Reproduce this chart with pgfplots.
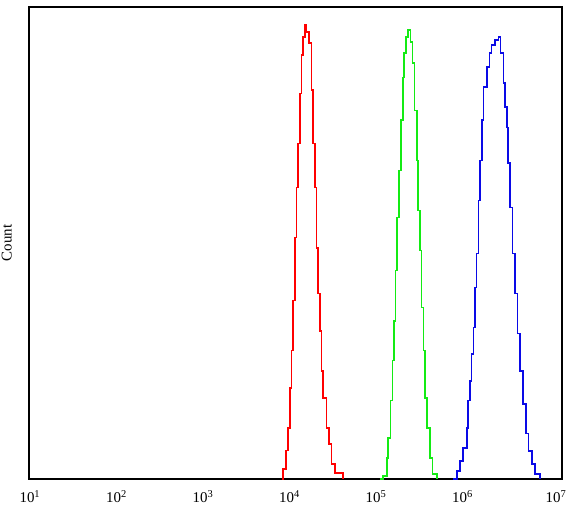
\documentclass[border=0pt]{standalone}
\usepackage{fontspec}
\setmainfont{Liberation Serif}
\usepackage{pgfplots}
\pgfplotsset{compat=1.18}
\definecolor{hred}{RGB}{255,0,0}
\definecolor{hgreen}{RGB}{20,235,20}
\definecolor{hblue}{RGB}{10,10,230}
\begin{document}
\begin{tikzpicture}[font=\fontsize{15}{18}\selectfont]
\useasboundingbox (-29bp,-33bp) rectangle (539bp,479bp);
\begin{axis}[
  scale only axis,
  width=533bp, height=472bp,
  xmin=0.99, xmax=7.15, ymin=0, ymax=100,
  axis line style={line width=1.2bp, black},
  xtick={1,2,3,4,5,6,7.08},
  xticklabels={10\textsuperscript{1},10\textsuperscript{2},10\textsuperscript{3},10\textsuperscript{4},10\textsuperscript{5},10\textsuperscript{6},10\textsuperscript{7}},
  ytick=\empty,
  major tick length=0pt,
  tick label style={font=\fontsize{15}{18}\selectfont},
  xticklabel style={yshift=-8bp},
  ylabel={Count},
  every axis y label/.style={at={(axis description cs:-0.0319,0.5)}, rotate=90, anchor=south, inner sep=0pt, font=\fontsize{15}{18}\selectfont},
  clip=true,
]
\addplot[const plot, hred, line width=1.6bp] coordinates {
(3.910,0) (3.928,2.1) (3.960,6.0) (3.986,10.8) (4.006,19.3) (4.025,27.2) (4.044,37.8) (4.064,51.2) (4.083,61.8) (4.102,71.1) (4.121,81.7) (4.141,89.8) (4.160,93.6) (4.179,96.2) (4.199,94.7) (4.229,92.4) (4.257,82.4) (4.275,71.1) (4.295,61.8) (4.314,49.0) (4.333,39.3) (4.353,31.4) (4.372,22.9) (4.391,17.2) (4.430,10.8) (4.460,7.4) (4.488,3.2) (4.526,1.3) (4.618,0)
};
\addplot[const plot, hgreen, line width=1.6bp] coordinates {
(5.046,0) (5.084,0.6) (5.124,4.5) (5.142,8.7) (5.170,16.6) (5.193,25.1) (5.208,33.5) (5.228,44.2) (5.246,55.4) (5.269,65.4) (5.289,76.0) (5.309,85.1) (5.327,90.2) (5.347,93.6) (5.373,95.1) (5.401,92.6) (5.424,88.1) (5.443,78.1) (5.471,67.5) (5.489,56.9) (5.509,48.4) (5.528,36.3) (5.547,27.2) (5.566,17.2) (5.593,10.8) (5.624,4.5) (5.655,1.1) (5.702,0)
};
\addplot[const plot, hblue, line width=1.6bp] coordinates {
(5.894,0) (5.933,1.7) (5.971,3.8) (6.009,6.6) (6.049,10.8) (6.067,16.6) (6.087,20.8) (6.106,26.5) (6.125,32.1) (6.145,40.6) (6.164,47.8) (6.183,59.0) (6.202,67.5) (6.222,76.0) (6.241,83.0) (6.280,87.3) (6.310,90.2) (6.337,91.9) (6.376,93.0) (6.414,93.6) (6.441,90.2) (6.472,83.9) (6.491,78.8) (6.511,74.5) (6.529,66.9) (6.549,57.5) (6.580,47.8) (6.607,39.3) (6.634,30.8) (6.665,22.9) (6.696,15.9) (6.734,9.6) (6.761,5.9) (6.800,3.2) (6.838,1.1) (6.896,0)
};
\end{axis}
\end{tikzpicture}
\end{document}
